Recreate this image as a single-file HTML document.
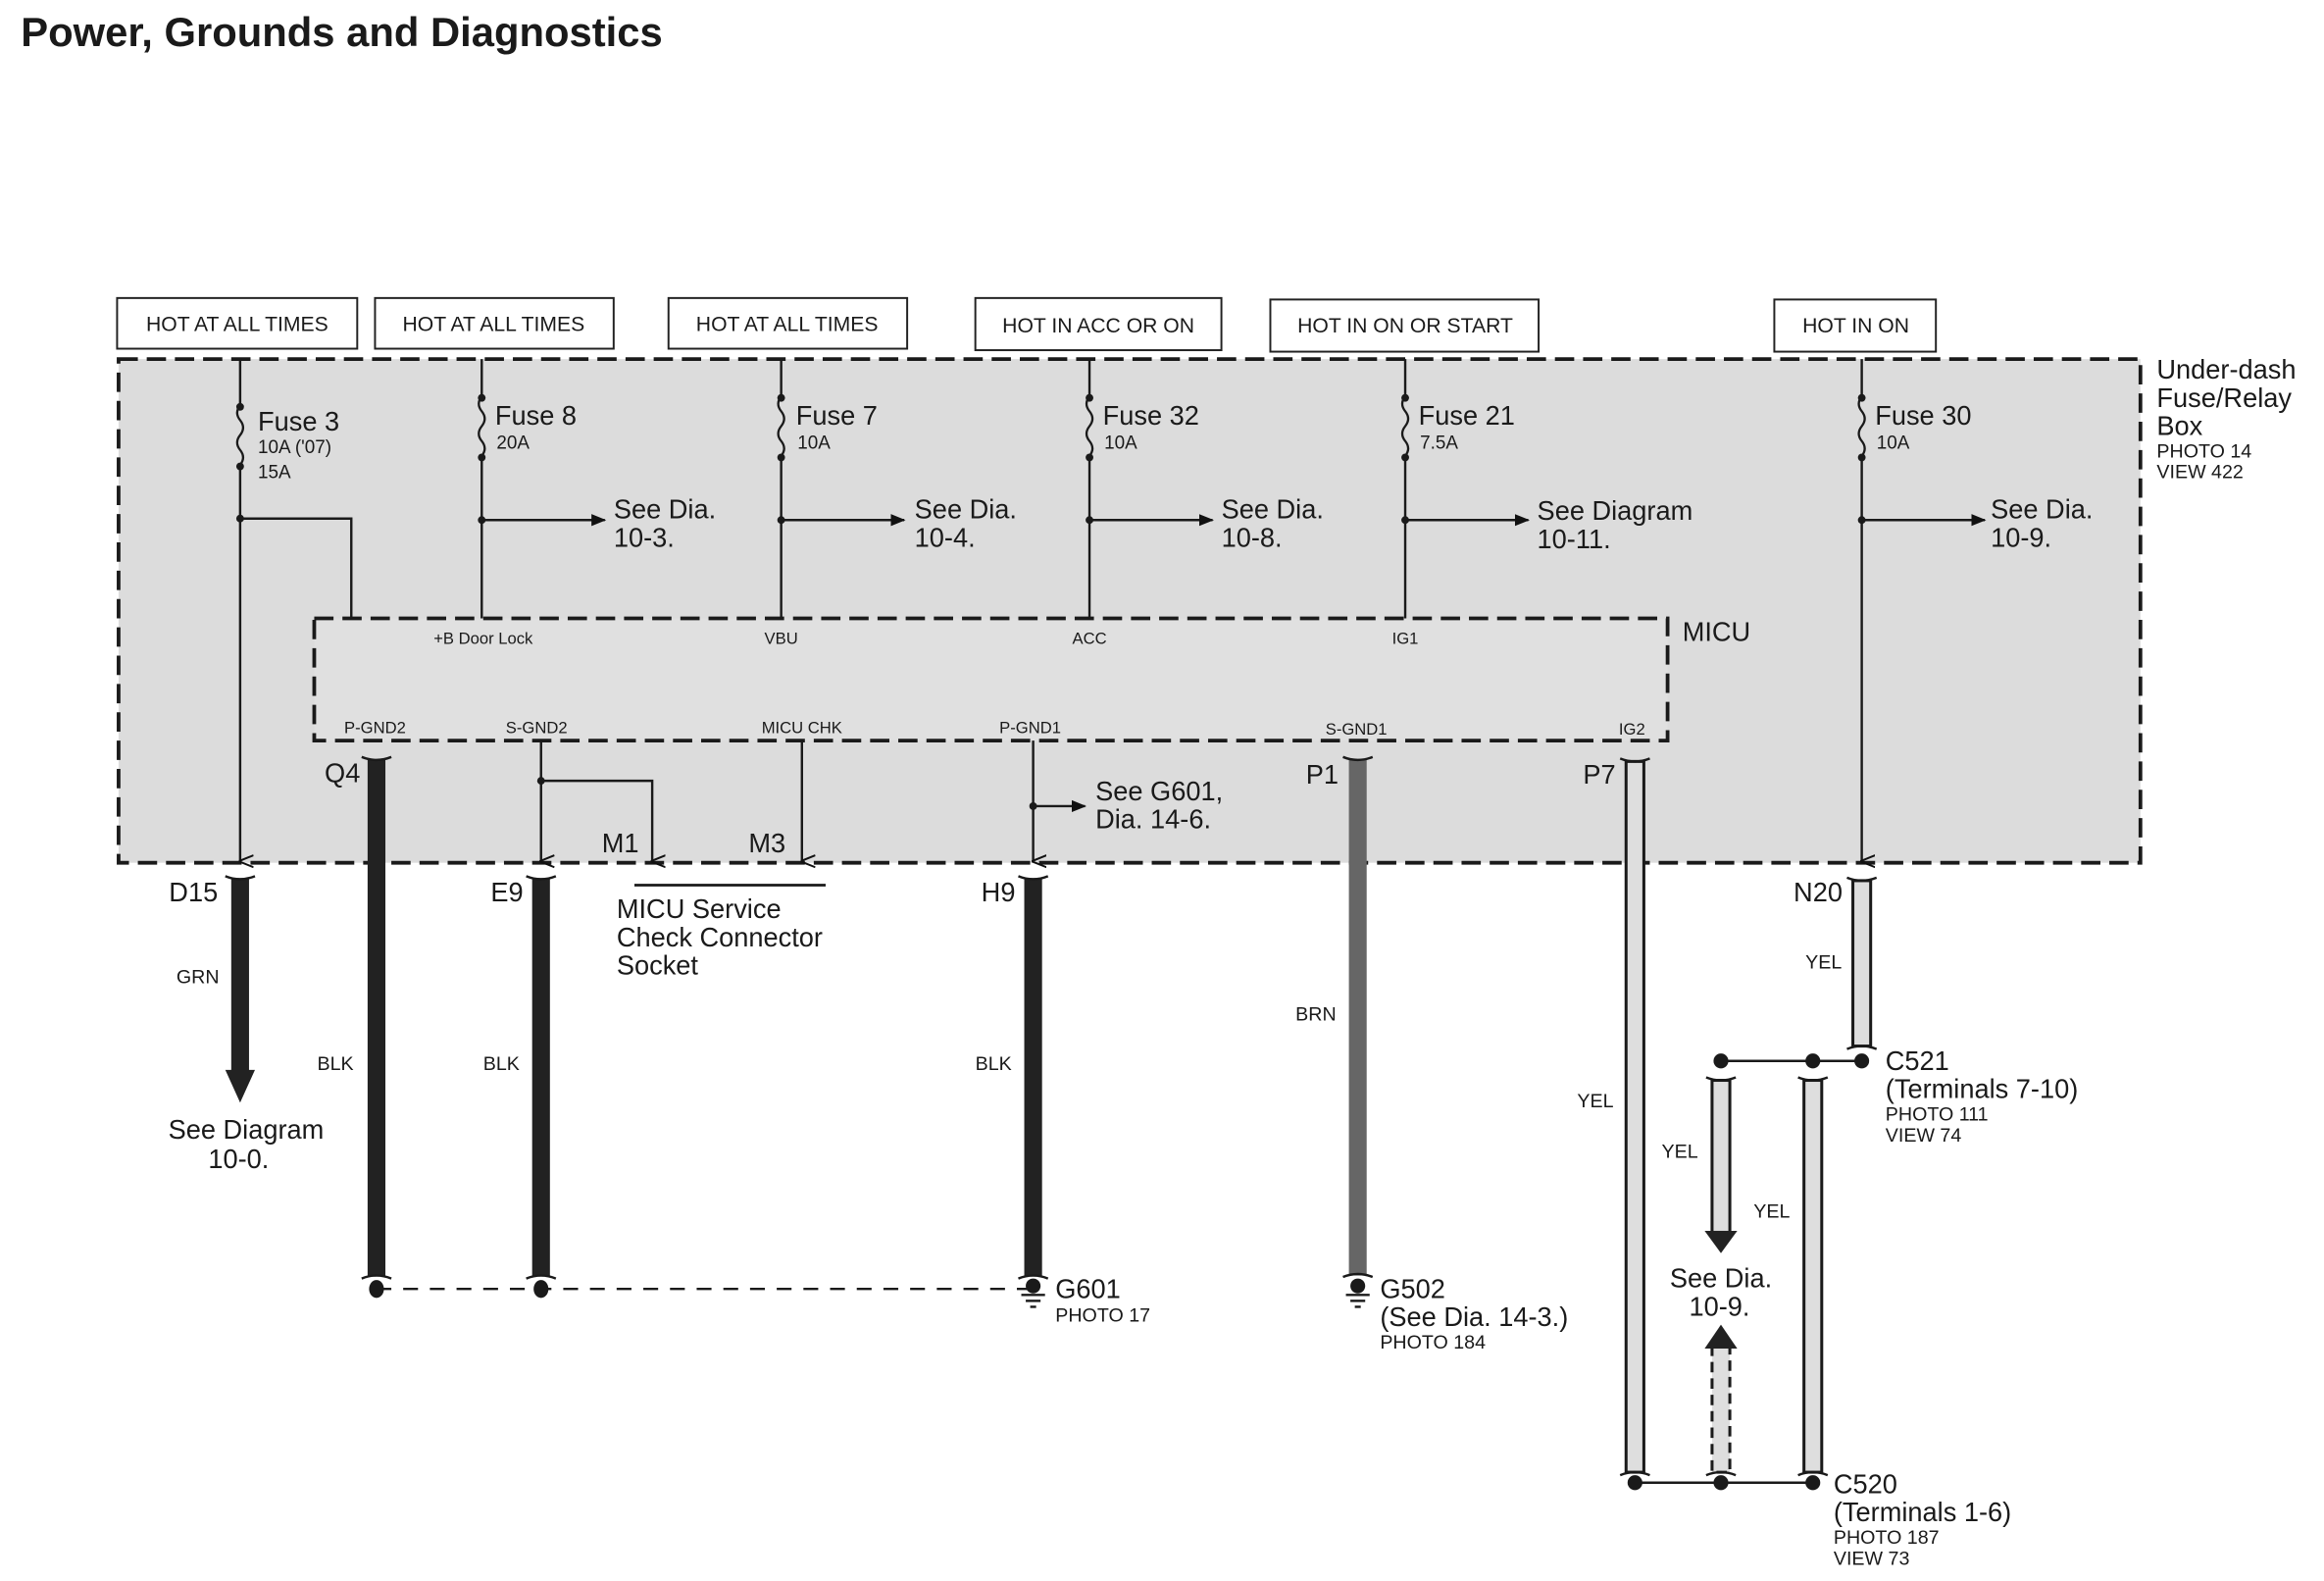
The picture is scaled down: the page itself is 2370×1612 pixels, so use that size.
<!DOCTYPE html>
<html><head><meta charset="utf-8"><style>
html,body{margin:0;padding:0;background:#fff;}
svg{display:block;}
text{font-family:"Liberation Sans Narrow","Liberation Sans",sans-serif;fill:#1a1a1a;}
</style></head><body>
<svg width="2370" height="1612" viewBox="0 0 1560 1061" preserveAspectRatio="none" xmlns="http://www.w3.org/2000/svg">
<defs>
<marker id="ar" markerWidth="10" markerHeight="10" refX="9" refY="5" orient="auto" markerUnits="userSpaceOnUse"><path d="M0,1 L10,5 L0,9 Z" fill="#111"/></marker>
<marker id="ad" markerWidth="10" markerHeight="10" refX="5" refY="9" orient="auto-start-reverse" markerUnits="userSpaceOnUse"><path d="M1,0 L5,10 L9,0" fill="none" stroke="#111" stroke-width="1.3"/></marker>
</defs>
<text x="14" y="31" style="font-family:'Liberation Sans',sans-serif;font-weight:bold;font-size:27.5px">Power, Grounds and Diagnostics</text>
<g transform="scale(0.995,1)">
<!-- header boxes -->
<g fill="#fff" stroke="#222" stroke-width="1.3">
<rect x="79" y="200" width="162" height="34"/>
<rect x="253" y="200" width="161" height="34"/>
<rect x="451" y="200" width="161" height="34"/>
<rect x="658" y="200" width="166" height="35"/>
<rect x="857" y="201" width="181" height="35"/>
<rect x="1197" y="201" width="109" height="35"/>
</g>
<g font-size="14" text-anchor="middle">
<text x="160" y="222">HOT AT ALL TIMES</text>
<text x="333" y="222">HOT AT ALL TIMES</text>
<text x="531" y="222">HOT AT ALL TIMES</text>
<text x="741" y="223">HOT IN ACC OR ON</text>
<text x="948" y="223">HOT IN ON OR START</text>
<text x="1252" y="223">HOT IN ON</text>
</g>

<rect x="80" y="241" width="1364" height="338" fill="#dcdcdc" stroke="#1a1a1a" stroke-width="2.5" stroke-dasharray="13,6"/>
<rect x="212" y="415" width="913" height="82" fill="#e0e0e0" stroke="#1a1a1a" stroke-width="2.5" stroke-dasharray="13,6"/>

<g font-size="18">
<text x="1455" y="254">Under-dash</text>
<text x="1455" y="273">Fuse/Relay</text>
<text x="1455" y="292">Box</text>
<text x="1135" y="430">MICU</text>
</g>
<g font-size="13"><text x="1455" y="307">PHOTO 14</text><text x="1455" y="321">VIEW 422</text></g>

<g stroke="#1a1a1a" stroke-width="1.6" fill="none">
<line x1="162" y1="241" x2="162" y2="578" marker-end="url(#ad)"/>
<line x1="325" y1="241" x2="325" y2="415"/>
<line x1="527" y1="241" x2="527" y2="415"/>
<line x1="735" y1="241" x2="735" y2="415"/>
<line x1="948" y1="241" x2="948" y2="415"/>
<line x1="1256" y1="241" x2="1256" y2="578" marker-end="url(#ad)"/>
<polyline points="162,348 237,348 237,415"/>
<line x1="325" y1="349" x2="408" y2="349" marker-end="url(#ar)"/>
<line x1="527" y1="349" x2="610" y2="349" marker-end="url(#ar)"/>
<line x1="735" y1="349" x2="818" y2="349" marker-end="url(#ar)"/>
<line x1="948" y1="349" x2="1031" y2="349" marker-end="url(#ar)"/>
<line x1="1256" y1="349" x2="1339" y2="349" marker-end="url(#ar)"/>
</g>
<g fill="#1a1a1a">
<g transform="translate(162,0)"><rect x="-3" y="272" width="6" height="42" fill="#dcdcdc"/><path d="M0,272 q-4,5 0,10 q4,5 0,10 q-4,5 0,10 q4,5 0,10" fill="none" stroke="#1a1a1a" stroke-width="1.5"/><circle cx="0" cy="273" r="2.6"/><circle cx="0" cy="313" r="2.6"/></g>
<g transform="translate(325,-6)"><rect x="-3" y="272" width="6" height="42" fill="#dcdcdc"/><path d="M0,272 q-4,5 0,10 q4,5 0,10 q-4,5 0,10 q4,5 0,10" fill="none" stroke="#1a1a1a" stroke-width="1.5"/><circle cx="0" cy="273" r="2.6"/><circle cx="0" cy="313" r="2.6"/></g>
<g transform="translate(527,-6)"><rect x="-3" y="272" width="6" height="42" fill="#dcdcdc"/><path d="M0,272 q-4,5 0,10 q4,5 0,10 q-4,5 0,10 q4,5 0,10" fill="none" stroke="#1a1a1a" stroke-width="1.5"/><circle cx="0" cy="273" r="2.6"/><circle cx="0" cy="313" r="2.6"/></g>
<g transform="translate(735,-6)"><rect x="-3" y="272" width="6" height="42" fill="#dcdcdc"/><path d="M0,272 q-4,5 0,10 q4,5 0,10 q-4,5 0,10 q4,5 0,10" fill="none" stroke="#1a1a1a" stroke-width="1.5"/><circle cx="0" cy="273" r="2.6"/><circle cx="0" cy="313" r="2.6"/></g>
<g transform="translate(948,-6)"><rect x="-3" y="272" width="6" height="42" fill="#dcdcdc"/><path d="M0,272 q-4,5 0,10 q4,5 0,10 q-4,5 0,10 q4,5 0,10" fill="none" stroke="#1a1a1a" stroke-width="1.5"/><circle cx="0" cy="273" r="2.6"/><circle cx="0" cy="313" r="2.6"/></g>
<g transform="translate(1256,-6)"><rect x="-3" y="272" width="6" height="42" fill="#dcdcdc"/><path d="M0,272 q-4,5 0,10 q4,5 0,10 q-4,5 0,10 q4,5 0,10" fill="none" stroke="#1a1a1a" stroke-width="1.5"/><circle cx="0" cy="273" r="2.6"/><circle cx="0" cy="313" r="2.6"/></g>
<circle cx="162" cy="348" r="2.6"/><circle cx="325" cy="349" r="2.6"/><circle cx="527" cy="349" r="2.6"/><circle cx="735" cy="349" r="2.6"/><circle cx="948" cy="349" r="2.6"/><circle cx="1256" cy="349" r="2.6"/>
<circle cx="365" cy="524" r="2.6"/><circle cx="697" cy="541" r="2.6"/>
</g>
<g font-size="18">
<text x="174" y="289">Fuse 3</text><text x="334" y="285">Fuse 8</text><text x="537" y="285">Fuse 7</text>
<text x="744" y="285">Fuse 32</text><text x="957" y="285">Fuse 21</text><text x="1265" y="285">Fuse 30</text>
</g>
<g font-size="12.5">
<text x="174" y="304">10A ('07)</text><text x="174" y="321">15A</text>
<text x="335" y="301">20A</text><text x="538" y="301">10A</text><text x="745" y="301">10A</text><text x="958" y="301">7.5A</text><text x="1266" y="301">10A</text>
</g>
<g font-size="18" style="font-family:'Liberation Sans',sans-serif">
<text x="414" y="348" style="font-family:'Liberation Sans',sans-serif">See  Dia.</text><text x="414" y="367" style="font-family:'Liberation Sans',sans-serif">10-3.</text>
<text x="617" y="348" style="font-family:'Liberation Sans',sans-serif">See  Dia.</text><text x="617" y="367" style="font-family:'Liberation Sans',sans-serif">10-4.</text>
<text x="824" y="348" style="font-family:'Liberation Sans',sans-serif">See  Dia.</text><text x="824" y="367" style="font-family:'Liberation Sans',sans-serif">10-8.</text>
<text x="1037" y="349" style="font-family:'Liberation Sans',sans-serif">See  Diagram</text><text x="1037" y="368" style="font-family:'Liberation Sans',sans-serif">10-11.</text>
<text x="1343" y="348" style="font-family:'Liberation Sans',sans-serif">See  Dia.</text><text x="1343" y="367" style="font-family:'Liberation Sans',sans-serif">10-9.</text>
<text x="739" y="537" style="font-family:'Liberation Sans',sans-serif">See G601,</text><text x="739" y="556" style="font-family:'Liberation Sans',sans-serif">Dia. 14-6.</text>
</g>
<g font-size="11" text-anchor="middle">
<text x="326" y="432">+B Door Lock</text><text x="527" y="432">VBU</text><text x="735" y="432">ACC</text><text x="948" y="432">IG1</text>
<text x="253" y="492">P-GND2</text><text x="362" y="492">S-GND2</text><text x="541" y="492">MICU CHK</text><text x="695" y="492">P-GND1</text><text x="915" y="493">S-GND1</text><text x="1101" y="493">IG2</text>
</g>
<g stroke="#1a1a1a" stroke-width="1.6" fill="none">
<line x1="365" y1="497" x2="365" y2="578" marker-end="url(#ad)"/>
<polyline points="365,524 440,524 440,578" marker-end="url(#ad)"/>
<line x1="541" y1="497" x2="541" y2="578" marker-end="url(#ad)"/>
<line x1="697" y1="497" x2="697" y2="578" marker-end="url(#ad)"/>
<line x1="697" y1="541" x2="732" y2="541" marker-end="url(#ar)"/>
<line x1="428" y1="594" x2="557" y2="594" stroke-width="1.8"/>
</g>
<g font-size="18">
<text x="406" y="572">M1</text><text x="505" y="572">M3</text>
<text x="219" y="525">Q4</text><text x="881" y="526">P1</text><text x="1068" y="526">P7</text>
<text x="114" y="605">D15</text><text x="331" y="605">E9</text><text x="662" y="605">H9</text><text x="1210" y="605">N20</text>
</g>
<g font-size="18">
<text x="416" y="616" style="font-family:'Liberation Sans',sans-serif">MICU Service</text>
<text x="416" y="635" style="font-family:'Liberation Sans',sans-serif">Check Connector</text>
<text x="416" y="654" style="font-family:'Liberation Sans',sans-serif">Socket</text>
<text x="166" y="764" text-anchor="middle" style="font-family:'Liberation Sans',sans-serif">See Diagram</text>
<text x="161" y="784" text-anchor="middle" style="font-family:'Liberation Sans',sans-serif">10-0.</text>
<text x="712" y="871" style="font-family:'Liberation Sans',sans-serif">G601</text>
<text x="931" y="871" style="font-family:'Liberation Sans',sans-serif">G502</text>
<text x="931" y="890" style="font-family:'Liberation Sans',sans-serif">(See Dia. 14-3.)</text>
<text x="1272" y="718" style="font-family:'Liberation Sans',sans-serif">C521</text>
<text x="1272" y="737" style="font-family:'Liberation Sans',sans-serif">(Terminals 7-10)</text>
<text x="1237" y="1002" style="font-family:'Liberation Sans',sans-serif">C520</text>
<text x="1237" y="1021" style="font-family:'Liberation Sans',sans-serif">(Terminals 1-6)</text>
<text x="1161" y="864" text-anchor="middle" style="font-family:'Liberation Sans',sans-serif">See  Dia.</text>
<text x="1160" y="883" text-anchor="middle" style="font-family:'Liberation Sans',sans-serif">10-9.</text>
</g>
<g font-size="13">
<text x="712" y="887" style="font-family:'Liberation Sans',sans-serif">PHOTO 17</text>
<text x="931" y="905" style="font-family:'Liberation Sans',sans-serif">PHOTO 184</text>
<text x="1272" y="752" style="font-family:'Liberation Sans',sans-serif">PHOTO 111</text>
<text x="1272" y="766" style="font-family:'Liberation Sans',sans-serif">VIEW 74</text>
<text x="1237" y="1036" style="font-family:'Liberation Sans',sans-serif">PHOTO 187</text>
<text x="1237" y="1050" style="font-family:'Liberation Sans',sans-serif">VIEW 73</text>
<text x="119" y="660" style="font-family:'Liberation Sans',sans-serif">GRN</text>
<text x="214" y="718" style="font-family:'Liberation Sans',sans-serif">BLK</text>
<text x="326" y="718" style="font-family:'Liberation Sans',sans-serif">BLK</text>
<text x="658" y="718" style="font-family:'Liberation Sans',sans-serif">BLK</text>
<text x="874" y="685" style="font-family:'Liberation Sans',sans-serif">BRN</text>
<text x="1064" y="743" style="font-family:'Liberation Sans',sans-serif">YEL</text>
<text x="1218" y="650" style="font-family:'Liberation Sans',sans-serif">YEL</text>
<text x="1121" y="777" style="font-family:'Liberation Sans',sans-serif">YEL</text>
<text x="1183" y="817" style="font-family:'Liberation Sans',sans-serif">YEL</text>
</g>

<g>
<rect x="248" y="510" width="12" height="346" fill="#222"/>
<rect x="156" y="590" width="12" height="130" fill="#222"/>
<path d="M152,718 L172,718 L162,740 Z" fill="#222"/>
<rect x="359" y="590" width="12" height="266" fill="#222"/>
<rect x="691" y="590" width="12" height="266" fill="#222"/>
<rect x="910" y="510" width="12" height="346" fill="#666"/>
<g fill="#dedede" stroke="#1a1a1a" stroke-width="2">
<rect x="1097" y="511" width="12" height="477"/>
<rect x="1250" y="591" width="12" height="111"/>
<rect x="1217" y="725" width="12" height="263"/>
<rect x="1155" y="725" width="12" height="102"/>
</g>
<path d="M1150,826 L1172,826 L1161,841 Z" fill="#222"/>
<rect x="1155" y="903" width="12" height="85" fill="#dedede" stroke="#1a1a1a" stroke-width="2" stroke-dasharray="7,4"/>
<path d="M1150,905 L1172,905 L1161,889 Z" fill="#222"/>
<g fill="none" stroke="#1a1a1a" stroke-width="1.6">
<path d="M244,508 q10,4 20,0"/><path d="M1093,509 q10,4 20,0"/><path d="M906,508 q10,4 20,0"/>
<path d="M152,588 q10,4 20,0"/><path d="M355,588 q10,4 20,0"/><path d="M687,588 q10,4 20,0"/><path d="M1246,589 q10,4 20,0"/>
<path d="M1246,704 q10,-4 20,0"/><path d="M1151,723 q10,4 20,0"/><path d="M1213,723 q10,4 20,0"/>
<path d="M1093,990 q10,-4 20,0"/><path d="M1151,990 q10,-4 20,0"/><path d="M1213,990 q10,-4 20,0"/>
<path d="M244,858 q10,-4 20,0"/><path d="M355,858 q10,-4 20,0"/><path d="M687,858 q10,-4 20,0"/><path d="M906,857 q10,-4 20,0"/>
</g>
<g stroke="#1a1a1a" stroke-width="1.6">
<line x1="1161" y1="712" x2="1256" y2="712"/>
<line x1="1103" y1="995" x2="1223" y2="995"/>
<line x1="254" y1="865" x2="697" y2="865" stroke-dasharray="10,8"/>
</g>
<g fill="#1a1a1a">
<circle cx="1161" cy="712" r="5"/><circle cx="1223" cy="712" r="5"/><circle cx="1256" cy="712" r="5"/>
<circle cx="1103" cy="995" r="5"/><circle cx="1161" cy="995" r="5"/><circle cx="1223" cy="995" r="5"/>
<ellipse cx="254" cy="865" rx="5" ry="6"/><ellipse cx="365" cy="865" rx="5" ry="6"/>
<ellipse cx="697" cy="863" rx="5" ry="5"/><ellipse cx="916" cy="863" rx="5" ry="5"/>
</g>
<g stroke="#1a1a1a" stroke-width="1.6">
<line x1="689" y1="869" x2="705" y2="869"/><line x1="692" y1="873" x2="702" y2="873"/><line x1="695" y1="877" x2="699" y2="877"/>
<line x1="908" y1="869" x2="924" y2="869"/><line x1="911" y1="873" x2="921" y2="873"/><line x1="914" y1="877" x2="918" y2="877"/>
</g>
</g>
</g>
</svg>
</body></html>
